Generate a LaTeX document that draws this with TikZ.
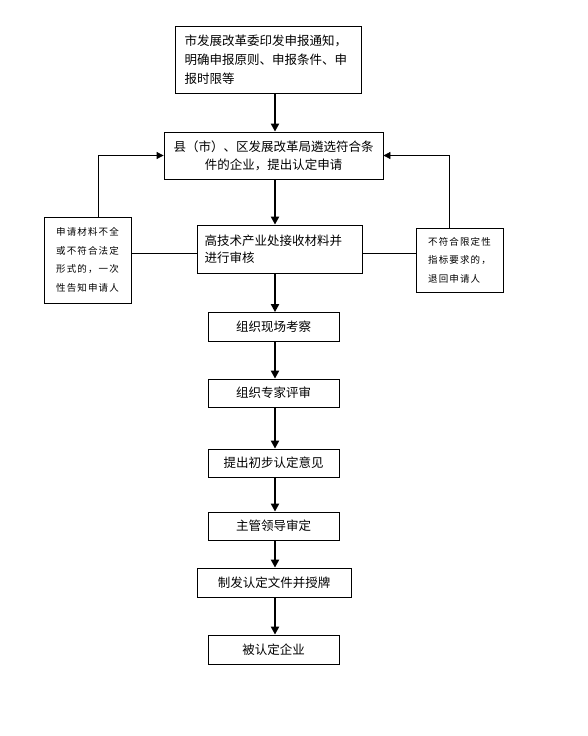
\documentclass[tikz,border=0pt]{standalone}
\usepackage{fontspec}
\usetikzlibrary{arrows.meta}
\newfontfamily\cjk{Noto Sans CJK SC}
\newfontfamily\cjkwide[LetterSpace=12]{Noto Sans CJK SC}

\tikzset{
  box/.style={draw, line width=0.8pt, inner sep=0pt, font=\cjk\fontsize{12.5}{19}\selectfont},
  stepbox/.style={box, minimum width=131pt, minimum height=29pt},
  sidebox/.style={draw, line width=0.8pt, inner sep=0pt, align=left,
    font=\cjkwide\fontsize{9.5}{18.5}\selectfont},
  flow/.style={line width=2.6pt, -{Triangle[length=8pt,width=8pt]}},
  back/.style={line width=0.8pt, -{Triangle[length=7pt,width=7pt]}},
}

\begin{document}
\begin{tikzpicture}[x=1pt,y=-1pt]
\useasboundingbox (0,0) rectangle (588,736);

\node[box, minimum width=186pt, minimum height=67pt, text width=168pt, align=left] (notice) at (268.5,60)
  {市发展改革委印发申报通知，\\明确申报原则、申报条件、申\\报时限等};
\node[box, minimum width=219pt, minimum height=47pt, align=center, font=\cjk\fontsize{12.5}{18}\selectfont] (county) at (273.5,155.5)
  {县（市）、区发展改革局遴选符合条\\件的企业，提出认定申请};
\node[box, minimum width=165pt, minimum height=48pt, text width=150pt, align=left, font=\cjk\fontsize{12.5}{17}\selectfont] (accept) at (279.5,249)
  {高技术产业处接收材料并\\进行审核};
\node[sidebox, minimum width=87pt, minimum height=86pt] (incomplete) at (87.5,260)
  {申请材料不全\\或不符合法定\\形式的，一次\\性告知申请人};
\node[sidebox, minimum width=87pt, minimum height=64pt] (reject) at (459.5,260)
  {不符合限定性\\指标要求的，\\退回申请人};
\node[stepbox] (visit) at (273.5,327) {组织现场考察};
\node[stepbox, minimum height=28pt] (expert) at (273.5,393) {组织专家评审};
\node[stepbox, minimum height=28pt] (opinion) at (273.5,463) {提出初步认定意见};
\node[stepbox, minimum height=28pt] (leader) at (273.5,526) {主管领导审定};
\node[stepbox, minimum width=154pt] (issue) at (274,582.5) {制发认定文件并授牌};
\node[stepbox] (firm) at (273.5,649.5) {被认定企业};

\coordinate (axis) at (275,0);

\draw[flow] (notice.south -| axis) -- (county.north -| axis);
\draw[flow] (county.south -| axis) -- (accept.north -| axis);
\draw[flow] (accept.south -| axis) -- (visit.north -| axis);
\draw[flow] (visit.south -| axis) -- (expert.north -| axis);
\draw[flow] (expert.south -| axis) -- (opinion.north -| axis);
\draw[flow] (opinion.south -| axis) -- (leader.north -| axis);
\draw[flow] (leader.south -| axis) -- (issue.north -| axis);
\draw[flow] (issue.south -| axis) -- (firm.north -| axis);

\draw[back] ([xshift=11pt]incomplete.north) |- (county.west);
\draw[back] ([xshift=-10pt]reject.north) |- (county.east);
\draw[line width=0.8pt] ([yshift=-4pt]accept.west) -- ([yshift=-4pt]accept.west -| incomplete.east);
\draw[line width=0.8pt] ([yshift=-4pt]accept.east) -- ([yshift=-4pt]accept.east -| reject.west);
\end{tikzpicture}
\end{document}
